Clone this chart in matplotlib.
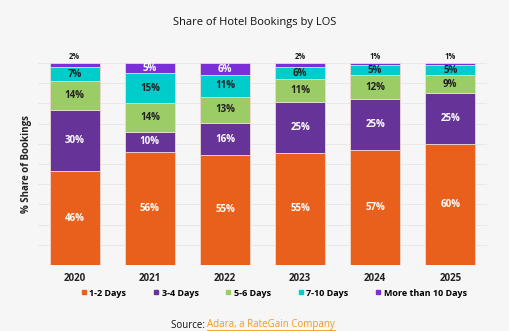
import matplotlib.pyplot as plt
import numpy as np
from matplotlib.lines import Line2D

years = ["2020", "2021", "2022", "2023", "2024", "2025"]
series_names = ["1-2 Days", "3-4 Days", "5-6 Days", "7-10 Days", "More than 10 Days"]
days_1_2 = [46, 56, 55, 55, 57, 60]
days_3_4 = [30, 10, 16, 25, 25, 25]
days_5_6 = [14, 14, 13, 11, 12, 9]
days_7_10 = [7, 15, 11, 6, 5, 5]
days_10_plus = [2, 5, 6, 2, 1, 1]

colors = ["#e8601c", "#663399", "#9ccc65", "#00cccc", "#7b2fd6"]
label_colors = ["white", "white", "#222222", "#222222", "white"]

BG = "#f6f6f6"
plt.rcParams["font.family"] = ["Open Sans", "DejaVu Sans"]

fig = plt.figure(figsize=(5.1, 3.31), dpi=100, facecolor=BG)
ax = fig.add_axes([38 / 510, 1 - 265 / 331, 449 / 510, 202 / 331])
ax.set_facecolor(BG)

all_series = np.array([days_1_2, days_3_4, days_5_6, days_7_10, days_10_plus], dtype=float)
# rounded shares don't always add to 100, so scale each bar to a full column
scale = 100.0 / all_series.sum(axis=0)

x = np.arange(len(years))
bottom = np.zeros(len(years))
for name, vals, col, lc in zip(series_names, all_series, colors, label_colors):
    h = vals * scale
    ax.bar(x, h, 0.667, bottom=bottom, color=col, edgecolor="#f0d8d0",
           linewidth=0.6, label=name, zorder=2)
    for xi, b, hv, v in zip(x, bottom, h, vals):
        if v >= 5:
            ax.text(xi, b + hv / 2, f"{int(v)}%", ha="center", va="center",
                    color=lc, fontsize=7, fontweight="bold", zorder=3)
        else:
            ax.text(xi, b + hv + 1.0, f"{int(v)}%", ha="center", va="bottom",
                    color="#222222", fontsize=5.5, fontweight="bold", zorder=3)
    bottom += h

ax.set_xlim(-0.49, 5.49)
ax.set_ylim(0, 100)
ax.set_yticks(np.arange(0, 101, 10))
ax.yaxis.grid(True, color="#e6e6e6", linewidth=0.6, zorder=0)
ax.tick_params(axis="y", left=False, labelleft=False)
ax.tick_params(axis="x", length=0, pad=6, labelsize=7)
ax.set_xticks(x)
ax.set_xticklabels(years, fontweight="bold", color="#222222")
for s in ax.spines.values():
    s.set_visible(False)

ax.set_ylabel("% Share of Bookings", fontsize=7, fontweight="bold", color="#222222")
ax.yaxis.set_label_coords(-0.013, 0.5)

fig.text(0.5, 1 - 23 / 331, "Share of Hotel Bookings by LOS", ha="center", va="center",
         fontsize=8, color="#111111")

handles = [Line2D([], [], marker="s", linestyle="none", markersize=3.5, color=c) for c in colors]
fig.legend(handles, series_names, loc="center", bbox_to_anchor=(274 / 510, 1 - 293 / 331),
           ncol=5, frameon=False, handlelength=0.6, handletextpad=0.3, columnspacing=3.0,
           prop={"weight": "bold", "size": 6.5})

src = fig.text(0.5, 1 - 325 / 331, "Source: ", ha="right", va="center", fontsize=7,
               color="#111111")
fig.canvas.draw()
r = fig.canvas.get_renderer()
bb = src.get_window_extent(r)
link = fig.text(bb.x1 / fig.bbox.width, 1 - 325 / 331, "Adara, a RateGain Company",
                ha="left", va="center", fontsize=7, color="#f29a1e")
fig.canvas.draw()
lb = link.get_window_extent(r)
# shift the pair so it is centred
total = lb.x1 - bb.x0
shift = (fig.bbox.width / 2 - 2 - (bb.x0 + total / 2)) / fig.bbox.width
src.set_x(src.get_position()[0] + shift)
link.set_x(link.get_position()[0] + shift)
fig.canvas.draw()
lb = link.get_window_extent(r)
fig.add_artist(Line2D([lb.x0 / fig.bbox.width, lb.x1 / fig.bbox.width],
                      [(lb.y0 + 1) / fig.bbox.height] * 2, color="#f29a1e", linewidth=0.6))

fig.savefig("out.png", dpi=100, facecolor=BG)
